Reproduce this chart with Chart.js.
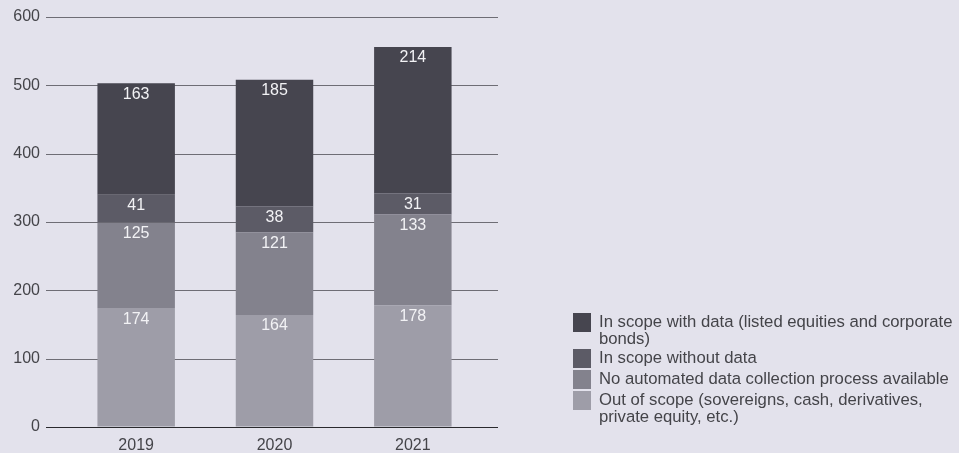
<!DOCTYPE html>
<html>
<head>
<meta charset="utf-8">
<script src="https://cdn.jsdelivr.net/npm/chart.js@4"></script>
<style>
  html, body { margin: 0; padding: 0; background: #e3e2ec; overflow: hidden; }
  #wrap { position: relative; width: 959px; height: 453px; overflow: hidden; }
  #legend {
    position: absolute; left: 573px; top: 313px; width: 400px;
    font-family: "Liberation Sans", Arial, sans-serif; font-size: 16.7px;
    color: #444449; line-height: 17px;
  }
  .item { display: flex; align-items: flex-start; margin-bottom: 2px; min-height: 19px; }
  .box { width: 18px; height: 19px; flex: 0 0 18px; margin-right: 8px; }
  .txt { width: 366px; }
</style>
</head>
<body>
<div id="wrap">
  <canvas id="chart" width="959" height="453"></canvas>
  <div id="legend"></div>
</div>
<script>
const years = ['2019', '2020', '2021'];
const outOfScope = [174, 164, 178];
const noAutomated = [125, 121, 133];
const withoutData = [41, 38, 31];
const withData = [163, 185, 214];
const yTicks = [0, 100, 200, 300, 400, 500, 600];

const seriesNames = [
  'Out of scope (sovereigns, cash, derivatives, private equity, etc.)',
  'No automated data collection process available',
  'In scope without data',
  'In scope with data (listed equities and corporate bonds)'
];
const seriesColors = ['#9e9da8', '#83828d', '#5c5b66', '#46454f'];
const seriesValues = [outOfScope, noAutomated, withoutData, withData];

const FONT = '"Liberation Sans", Arial, sans-serif';

// horizontal grid lines, a bit wider than the plot area
const gridLines = {
  id: 'gridLines',
  beforeDatasetsDraw(chart) {
    const { ctx, chartArea, scales } = chart;
    ctx.save();
    yTicks.forEach(v => {
      const y = Math.round(scales.y.getPixelForValue(v)) + 0.5;
      ctx.strokeStyle = v === 0 ? '#2a2a2e' : '#6e6d75';
      ctx.lineWidth = 1;
      ctx.beginPath();
      ctx.moveTo(chartArea.left - 21, y);
      ctx.lineTo(chartArea.right + 16, y);
      ctx.stroke();
    });
    ctx.restore();
  }
};

// value labels near the top of each segment
const segLabels = {
  id: 'segLabels',
  afterDatasetsDraw(chart) {
    const { ctx } = chart;
    ctx.save();
    ctx.font = '16px ' + FONT;
    ctx.fillStyle = '#f2f2f5';
    ctx.textAlign = 'center';
    ctx.textBaseline = 'middle';
    chart.data.datasets.forEach((ds, i) => {
      chart.getDatasetMeta(i).data.forEach((bar, j) => {
        ctx.fillText(String(ds.data[j]), bar.x, bar.y + 11);
      });
    });
    ctx.restore();
  }
};

const chart = new Chart(document.getElementById('chart'), {
  type: 'bar',
  data: {
    labels: years,
    datasets: seriesValues.map((vals, i) => ({
      label: seriesNames[i],
      data: vals,
      backgroundColor: seriesColors[i],
      borderWidth: 0,
      categoryPercentage: 1,
      barPercentage: 0.56
    }))
  },
  options: {
    responsive: false,
    animation: false,
    layout: { padding: { left: 0, right: 477, top: 17, bottom: 0 } },
    plugins: { legend: { display: false }, tooltip: { enabled: false } },
    scales: {
      x: {
        stacked: true,
        grid: { display: false, drawTicks: false },
        border: { display: false },
        ticks: { color: '#444449', font: { family: FONT, size: 16 }, padding: 9 },
        afterFit(axis) { axis.height = 26; }
      },
      y: {
        stacked: true,
        min: 0,
        max: 600,
        grid: { display: true, drawOnChartArea: false, drawTicks: true, tickLength: 27, color: 'rgba(0,0,0,0)' },
        border: { display: false },
        afterBuildTicks(axis) { axis.ticks = yTicks.map(v => ({ value: v })); },
        ticks: { color: '#444449', font: { family: FONT, size: 16 }, padding: 0 },
        afterFit(axis) { axis.width = 67; }
      }
    }
  },
  plugins: [gridLines, segLabels]
});

// legend, top item first
const legend = document.getElementById('legend');
for (let i = seriesNames.length - 1; i >= 0; i--) {
  const item = document.createElement('div');
  item.className = 'item';
  item.innerHTML = '<div class="box" style="background:' + seriesColors[i] + '"></div>' +
    '<div class="txt"></div>';
  item.querySelector('.txt').textContent = seriesNames[i];
  legend.appendChild(item);
}
</script>
</body>
</html>
